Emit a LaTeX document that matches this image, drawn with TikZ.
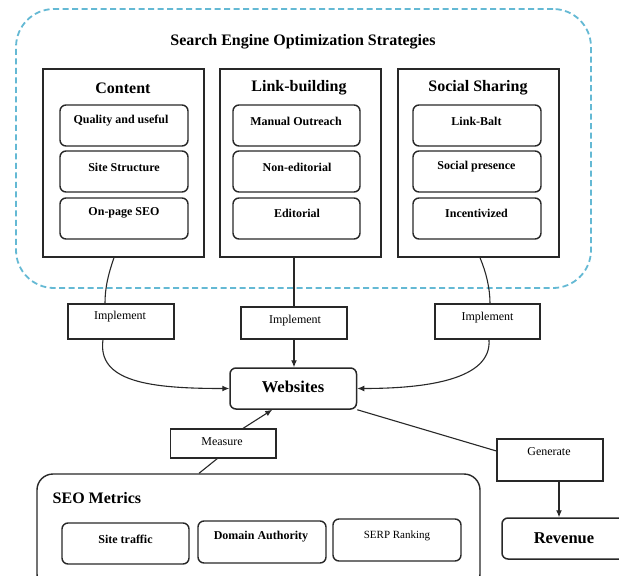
\documentclass[tikz,border=0pt]{standalone}
\usepackage{fontspec}
\setmainfont{Liberation Serif}
\usetikzlibrary{arrows.meta,calc}
\definecolor{dashblue}{RGB}{100,185,212}
\definecolor{ink}{RGB}{40,40,40}
\begin{document}
\begin{tikzpicture}[x=1pt,y=-1pt,
  dashbox/.style={draw=dashblue,line width=1.8pt,dash pattern=on 6pt off 3.5pt,rounded corners=38pt,inner sep=0pt},
  colbox/.style={draw=ink,line width=1.5pt,minimum width=161pt,minimum height=188pt,inner sep=0pt},
  ibox/.style={draw=ink,line width=1.4pt,rounded corners=6pt,minimum height=41pt,inner sep=0pt},
  pbox/.style={draw=ink,line width=1.2pt,inner sep=0pt},
  big/.style={font=\fontsize{16}{19}\selectfont\bfseries,inner sep=0pt},
  itxt/.style={font=\fontsize{12}{14}\selectfont\bfseries,inner sep=0pt},
  rtxt/.style={font=\fontsize{12}{14}\selectfont,inner sep=0pt},
  conn/.style={draw=ink,line width=1.1pt},
  arr/.style={conn,-{Latex[length=7pt,width=6pt]}}]
\clip (0,0) rectangle (619,576);
\fill[white] (0,0) rectangle (619,576);

% outer dashed container
\node[dashbox,minimum width=575pt,minimum height=279pt] (strat) at (303.5,148.5) {};
\node[big] (title) at (303,42) {Search Engine Optimization Strategies};

% columns
\node[colbox] (content) at (123.5,163) {};
\node[colbox] (link) at (300.5,163) {};
\node[colbox] (social) at (478.5,163) {};
\node[big] (contentT) at (123,88) {Content};
\node[big] (linkT) at (299,88) {Link-building};
\node[big] (socialT) at (478,88) {Social Sharing};

% content items
\node[ibox,minimum width=128pt] (c1) at (124,125.5) {};
\node[ibox,minimum width=128pt] (c2) at (124,171.5) {};
\node[ibox,minimum width=128pt] (c3) at (124,218.5) {};
\node[itxt] (c1t) at (121,121) {Quality and useful};
\node[itxt] (c2t) at (124,167) {Site Structure};
\node[itxt] (c3t) at (124,213) {On-page SEO};

% link items
\node[ibox,minimum width=127pt] (l1) at (296.5,125.5) {};
\node[ibox,minimum width=127pt] (l2) at (296.5,171.5) {};
\node[ibox,minimum width=127pt] (l3) at (296.5,218.5) {};
\node[itxt] (l1t) at (296,121) {Manual Outreach};
\node[itxt] (l2t) at (297,167) {Non-editorial};
\node[itxt] (l3t) at (297,213) {Editorial};

% social items
\node[ibox,minimum width=128pt] (s1) at (477,125.5) {};
\node[ibox,minimum width=128pt] (s2) at (477,171.5) {};
\node[ibox,minimum width=128pt] (s3) at (477,218.5) {};
\node[itxt] (s1t) at (476.5,121) {Link-Balt};
\node[itxt] (s2t) at (476.5,167) {Social presence};
\node[itxt] (s3t) at (476.5,213) {Incentivized};

% implement boxes
\node[pbox,minimum width=106pt,minimum height=35pt] (impl1) at (121,321.5) {};
\node[pbox,minimum width=106pt,minimum height=32pt] (impl2) at (294,323) {};
\node[pbox,minimum width=105pt,minimum height=35pt] (impl3) at (487.5,321.5) {};
\node[rtxt] (impl1t) at (120,317) {Implement};
\node[rtxt] (impl2t) at (295,321) {Implement};
\node[rtxt] (impl3t) at (487.5,318) {Implement};

% websites
\node[draw=ink,line width=1.5pt,rounded corners=6pt,minimum width=126.5pt,minimum height=41pt,inner sep=0pt] (web) at (293.25,388.5) {};
\node[big,font=\fontsize{16.5}{19}\selectfont\bfseries] (webt) at (293,387) {Websites};

% measure
\node[pbox,minimum width=105.5pt,minimum height=29pt] (measure) at (223.25,443.5) {};
\node[rtxt] (measuret) at (222,442) {Measure};

% generate
\node[pbox,minimum width=106pt,minimum height=42pt] (gen) at (550,460) {};
\node[rtxt] (gent) at (549,452) {Generate};

% revenue
\node[draw=ink,line width=1.5pt,rounded corners=6pt,minimum width=128pt,minimum height=41pt,inner sep=0pt] (rev) at (566,538.5) {};
\node[big,font=\fontsize{16.5}{19}\selectfont\bfseries] (revt) at (564,538) {Revenue};

% SEO metrics
\node[draw=ink,line width=1.4pt,rounded corners=16pt,minimum width=443pt,minimum height=116pt,inner sep=0pt] (seom) at (258.5,532) {};
\node[big,anchor=west] (seomt) at (52.5,498) {SEO Metrics};
\node[ibox,minimum width=127pt] (m1) at (125.5,543.5) {};
\node[ibox,minimum width=128pt,minimum height=42pt] (m2) at (262,542) {};
\node[ibox,minimum width=128pt,minimum height=42pt] (m3) at (397,540) {};
\node[itxt] (m1t) at (125.5,539) {Site traffic};
\node[itxt] (m2t) at (261,537) {Domain Authority};
\node[font=\fontsize{11}{13}\selectfont,inner sep=0pt] (m3t) at (397,536) {SERP Ranking};

% connectors: columns to implement
\draw[conn] ($(content.south)+(-9.5,0)$) .. controls (108,275) and (105,288) .. ($(impl1.north)+(-16,0)$);
\draw[conn] (impl2.north |- link.south) -- (impl2.north);
\draw[conn] ($(social.south)+(1.5,0)$) .. controls (486,272) and (490,288) .. ($(impl3.north)+(2.5,0)$);

% implement to websites
\draw[arr] ($(impl1.south)+(-18,0)$) .. controls (97,382) and (150,388.5) .. (web.west);
\draw[arr] (impl2.south) -- (impl2.south |- web.north);
\draw[arr] ($(impl3.south)+(1.5,0)$) .. controls (492,380) and (425,388.5) .. (web.east);

% measure
\draw[arr] ($(measure.north)+(19.75,0)$) -- ($(web.south)+(-21,0)$);
\draw[conn] ($(seom.north)+(-59.5,0)$) -- ($(measure.south)+(-6,0)$);

% generate
\draw[conn] (web.south east) -- ($(gen.west)+(0,-9)$);
\draw[arr] ($(gen.south)+(9,0)$) -- ($(rev.north)+(-7,0)$);
\end{tikzpicture}
\end{document}
